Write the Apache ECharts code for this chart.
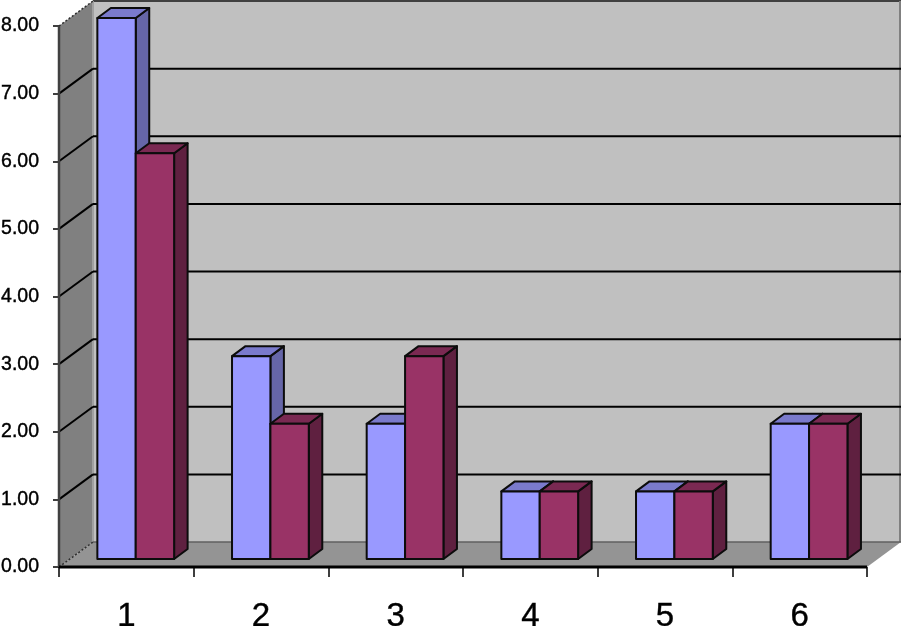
<!DOCTYPE html>
<html>
<head>
<meta charset="utf-8">
<style>html,body{margin:0;padding:0;background:#fff}#c{width:901px;height:626px}</style>
<script src="https://cdn.jsdelivr.net/npm/echarts@6/dist/echarts.min.js"></script>
</head>
<body>
<div id="c"></div>
<script>
var categories = ['1', '2', '3', '4', '5', '6'];
var seriesA = [8, 3, 2, 1, 1, 2];
var seriesB = [6, 2, 3, 1, 1, 2];
var gridValues = [1, 2, 3, 4, 5, 6, 7];
var axisMin = 0, axisMax = 8, axisStep = 1;

var WALL_DX = 34, WALL_DY = -25;   // oblique depth of the chart box
var BAR_DX = 9.4, BAR_DY = -8;     // bars stand this far behind the front plane
var DEPTH_DX = 13.5, DEPTH_DY = -10; // depth of each bar
var BAR_RATIO = 0.285;

function poly(pts, fill, stroke, lw, z2) {
  return { type: 'polygon', shape: { points: pts }, z2: z2 || 0,
    style: { fill: fill, stroke: stroke || null, lineWidth: lw || 0, lineJoin: 'round' } };
}
function line(p, q, color, w, dash, z2) {
  return { type: 'line', shape: { x1: p[0], y1: p[1], x2: q[0], y2: q[1] }, z2: z2 || 1,
    style: { stroke: color, lineWidth: w, lineDash: dash || null } };
}

function renderBox(params, api) {
  var cs = params.coordSys;
  var L = cs.x, R = cs.x + cs.width;
  var y0 = api.coord([0, axisMin])[1], yT = api.coord([0, axisMax])[1];
  var bx = L + WALL_DX, rx = R + WALL_DX;
  var by = y0 + WALL_DY, ty = yT + WALL_DY;
  var kids = [
    poly([[bx, ty], [rx, ty], [rx, by], [bx, by]], '#c0c0c0'),
    poly([[L, yT], [bx, ty], [bx, by], [L, y0]], '#808080'),
    poly([[L, y0], [bx, by], [rx, by], [R, y0]], '#949494'),
    line([bx, ty], [rx, ty], '#404040', 2),
    line([rx - 1, ty], [rx - 1, by], '#808080', 2),
    line([bx, ty], [bx, by], '#a0a0a0', 2),
    line([bx, by], [rx, by], '#606060', 1.5),
    line([L, yT], [bx, ty], '#303030', 1.5, [2, 2]),
    line([L, y0], [bx, by], '#303030', 1.5, [2, 2]),
    line([L, yT], [L, y0], '#404040', 2.5, null, 2),
    line([L, y0], [R, y0], '#000000', 3, null, 2)
  ];
  gridValues.forEach(function (v) {
    var y = api.coord([0, v])[1];
    kids.push(line([L, y], [bx, y + WALL_DY], '#000000', 2));
    kids.push(line([bx, y + WALL_DY], [rx, y + WALL_DY], '#000000', 2));
  });
  return { type: 'group', children: kids };
}

function barRenderer(side, front, top, right) {
  return function (params, api) {
    var i = api.value(0), v = api.value(1);
    var b = api.coord([i, 0]), t = api.coord([i, v]);
    var w = api.size([1, 0])[0] * BAR_RATIO;
    var x0 = b[0] + BAR_DX + (side < 0 ? -w : 0), x1 = x0 + w;
    var yb = b[1] + BAR_DY, yt = t[1] + BAR_DY;
    var sk = '#0c0c0c', lw = 2;
    return { type: 'group', children: [
      poly([[x1, yt], [x1 + DEPTH_DX, yt + DEPTH_DY], [x1 + DEPTH_DX, yb + DEPTH_DY], [x1, yb]], right, sk, lw),
      poly([[x0, yt], [x0 + DEPTH_DX, yt + DEPTH_DY], [x1 + DEPTH_DX, yt + DEPTH_DY], [x1, yt]], top, sk, lw),
      poly([[x0, yt], [x1, yt], [x1, yb], [x0, yb]], front, sk, lw)
    ] };
  };
}

function pairs(vals) { return vals.map(function (v, i) { return [i, v]; }); }

var chart = echarts.init(document.getElementById('c'), null, { renderer: 'canvas' });
chart.setOption({
  animation: false,
  backgroundColor: '#ffffff',
  grid: { left: 59, right: 34, top: 26, bottom: 59, outerBoundsMode: 'none', containLabel: false },
  xAxis: {
    type: 'category', data: categories,
    axisLine: { show: false },
    axisTick: { show: true, alignWithLabel: false, length: 10, lineStyle: { color: '#000', width: 1.5 } },
    axisLabel: { color: '#000', fontFamily: 'Liberation Sans', fontSize: 33, margin: 33,
      textBorderColor: '#000', textBorderWidth: 0.4 },
    splitLine: { show: false }
  },
  yAxis: {
    type: 'value', min: axisMin, max: axisMax, interval: axisStep,
    axisLine: { show: false },
    axisTick: { show: true, length: 6, lineStyle: { color: '#000', width: 1.5 } },
    axisLabel: { color: '#000', fontFamily: 'Liberation Sans', fontSize: 19.5, margin: 20,
      padding: [2, 0, 0, 0], textBorderColor: '#000', textBorderWidth: 0.4,
      formatter: function (v) { return v.toFixed(2); } },
    splitLine: { show: false }
  },
  series: [
    { type: 'custom', z: 1, clip: false, data: [[0, 0]], renderItem: renderBox, silent: true },
    { type: 'custom', z: 2, clip: false, data: pairs(seriesA), encode: { x: 0, y: 1 },
      renderItem: barRenderer(-1, '#9999ff', '#7a7acc', '#6666a8') },
    { type: 'custom', z: 3, clip: false, data: pairs(seriesB), encode: { x: 0, y: 1 },
      renderItem: barRenderer(1, '#993366', '#7a2952', '#5f2040') }
  ]
});
</script>
</body>
</html>
